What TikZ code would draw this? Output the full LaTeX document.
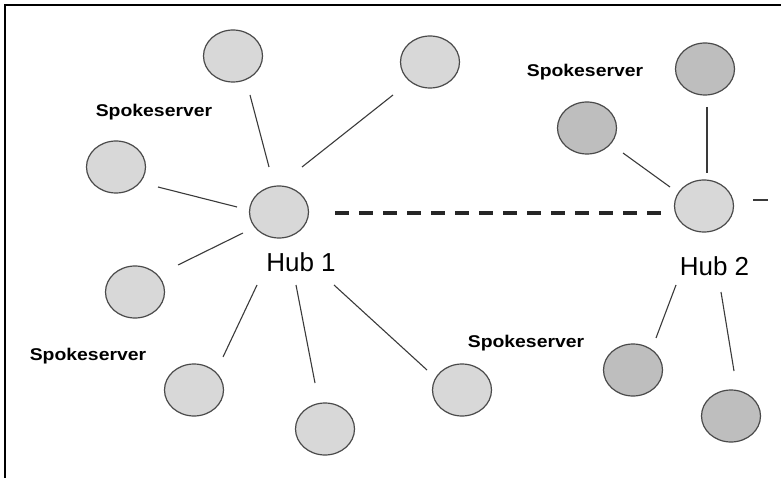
\documentclass[tikz,border=0pt]{standalone}
\usepackage{fontspec}
\setmainfont{Liberation Sans}
\usetikzlibrary{shapes.geometric,calc}
\definecolor{spokelight}{HTML}{D8D8D8}
\definecolor{spokedark}{HTML}{BEBEBE}
\definecolor{rimgray}{HTML}{4A4A4A}
\definecolor{wiregray}{HTML}{3A3A3A}
\tikzset{
  server/.style={ellipse, draw=rimgray, line width=1.2pt, fill=spokelight,
    minimum width=59pt, minimum height=52pt, inner sep=0pt},
  darkserver/.style={server, fill=spokedark},
  spoke/.style={draw=wiregray, line width=1.1pt},
  trunk/.style={draw=black!85, line width=4pt, dash pattern=on 14pt off 10pt},
  hublabel/.style={anchor=base, inner sep=0pt, font=\fontsize{26}{30}\selectfont},
  rolelabel/.style={anchor=base, inner sep=0pt, font=\bfseries\fontsize{17}{20}\selectfont}
}
\begin{document}
\begin{tikzpicture}[x=1pt,y=-1pt]
\useasboundingbox (0,0) rectangle (781,478);
% frame
\draw[line width=2.4pt] (5,478) -- (5,5.3) -- (781,5.3);

% hub 1 and its spokes
\node[server] (H1) at (279,212) {};
\node[server] (A) at (233,56) {};
\node[server] (B) at (430,62) {};
\node[server] (C) at (116,167) {};
\node[server] (D) at (135,292) {};
\node[server] (E) at (194,390) {};
\node[server] (F) at (325,429) {};
\node[server] (G) at (462,390) {};

% hub 2 and its spokes
\node[server] (H2) at (704,206) {};
\node[darkserver] (P) at (705,69) {};
\node[darkserver] (Q) at (587,128) {};
\node[darkserver] (R) at (633,370) {};
\node[darkserver] (S) at (731,416) {};

% labels
\node[hublabel] (L1) at (301,271) {Hub 1};
\node[hublabel] (L2) at (714.5,275) {Hub 2};
\node[rolelabel] (T1) at (154,117) {\scalebox{1.14}[1]{Spokeserver}};
\node[rolelabel] (T2) at (585,77) {\scalebox{1.14}[1]{Spokeserver}};
\node[rolelabel] (T3) at (88,360) {\scalebox{1.14}[1]{Spokeserver}};
\node[rolelabel] (T4) at (526,347) {\scalebox{1.14}[1]{Spokeserver}};

% spoke links of hub 1
\draw[spoke] ($(A)+(17,39)$) -- ($(H1)+(-10,-45)$);
\draw[spoke] ($(B)+(-37,33)$) -- ($(H1)+(23,-45)$);
\draw[spoke] ($(C)+(42,20)$) -- ($(H1)+(-42,-5)$);
\draw[spoke] ($(D)+(43,-27)$) -- ($(H1)+(-36,21)$);
\draw[spoke] ($(E)+(29,-33)$) -- ($(H1)+(-22,73)$);
\draw[spoke] ($(F)+(-10,-46)$) -- ($(H1)+(17,73)$);
\draw[spoke] ($(G)+(-35,-20)$) -- ($(H1)+(55,73)$);

% spoke links of hub 2
\draw[spoke] ($(P)+(2,38)$) -- ($(H2)+(3,-33)$);
\draw[spoke] ($(Q)+(36,25)$) -- ($(H2)+(-34,-19)$);
\draw[spoke] ($(R)+(23,-32)$) -- ($(H2)+(-28,79)$);
\draw[spoke] ($(S)+(3,-45)$) -- ($(H2)+(17,86)$);
\coordinate (offedge) at ($(H2)+(64,-6)$);
\draw[spoke] ($(H2)+(49,-6)$) -- (offedge);

% hub-to-hub trunk
\draw[trunk] ($(H1)+(56,1)$) -- ($(H2)+(-42,7)$);
\end{tikzpicture}
\end{document}
